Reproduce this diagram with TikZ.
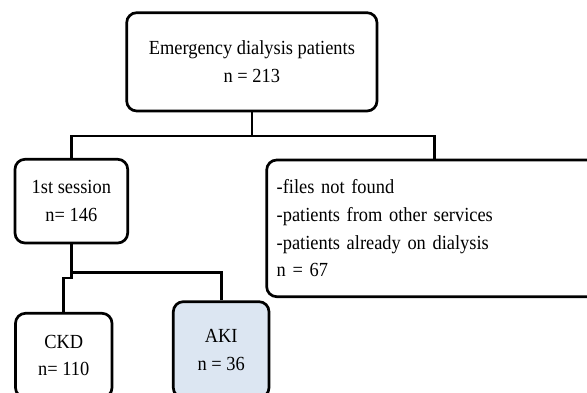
\documentclass[tikz,border=0pt]{standalone}
\usepackage{fontspec}
\setmainfont{Liberation Serif}[FakeStretch=0.92]
\definecolor{akiblue}{HTML}{DCE6F2}
\begin{document}
\begin{tikzpicture}[x=1pt,y=-1pt,
  box/.style={draw=black, line width=2.7pt, rounded corners=10pt, fill=white,
    inner sep=0pt, align=center,
    font=\fontsize{20}{27.8}\selectfont},
  conn/.style={draw=black, line width=2.7pt}]
\useasboundingbox (0,0) rectangle (587,392);
\fill[white] (0,0) rectangle (587,392);
\clip (0,0) rectangle (587,392);
% boxes
\node[box, minimum width=250.3pt, minimum height=98.3pt,
  font=\fontsize{20}{28.4}\selectfont] (top) at (251.85,61.85)
  {Emergency dialysis patients\\n = 213};
\node[box, minimum width=112.7pt, minimum height=83.7pt] (s1) at (71.35,201.15)
  {1st session\\n= 146};
\node[box, minimum width=335.3pt, minimum height=136.7pt, align=left,
  text width=315.3pt, inner xsep=10pt] (excl) at (434.35,228.35)
  {-files not found\\-patients from other services\\-patients already on dialysis\\n = 67};
\node[box, minimum width=96.5pt, minimum height=84.4pt] (ckd) at (63.75,355.5)
  {CKD\\n= 110};
\node[box, fill=akiblue, minimum width=95.7pt, minimum height=96pt] (aki) at (221.15,349.7)
  {AKI\\n = 36};
% connectors
\coordinate (j1) at (top.south |- 0,136);
\coordinate (j2) at (s1.south |- 0,272.3);
\coordinate (j3) at (s1.south |- 0,278);
\coordinate (j4) at (ckd.north |- j3);
\draw[conn] (top.south) -- (j1);
\draw[conn] (s1.north) |- (j1) -| (excl.north);
\draw[conn] (s1.south) -- (j3) -- (j4) -- (ckd.north);
\draw[conn] (j2) -| (aki.north);
\end{tikzpicture}
\end{document}
